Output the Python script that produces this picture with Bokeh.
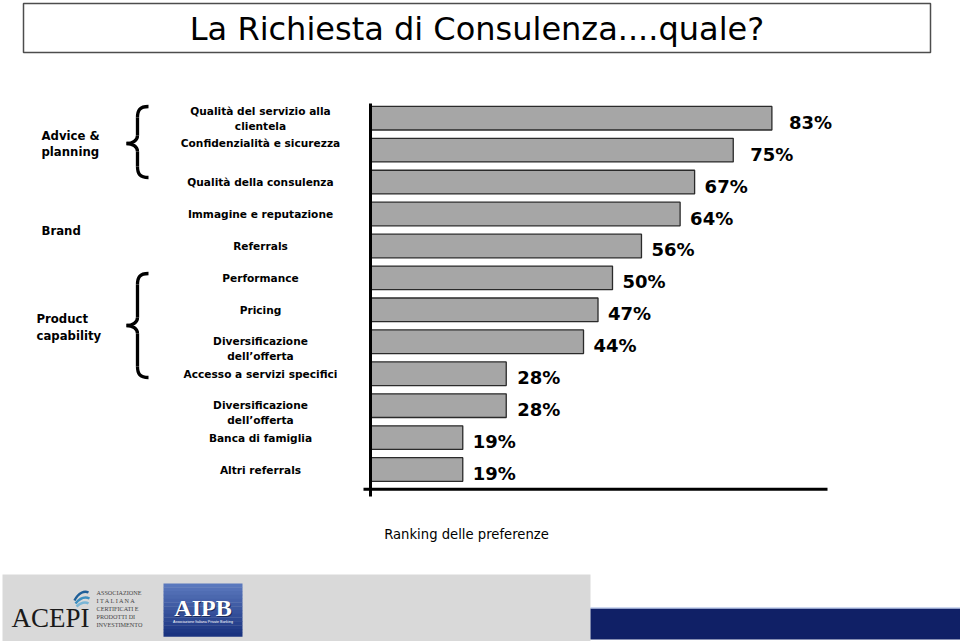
from bokeh.plotting import figure
from bokeh.models import ColumnDataSource, Range1d
from bokeh.core.properties import value
from bokeh.embed import file_html
from bokeh.resources import INLINE

# ---------------- data ----------------
categories = [
    "Qualità del servizio alla\nclientela",
    "Confidenzialità e sicurezza",
    "Qualità della consulenza",
    "Immagine e reputazione",
    "Referrals",
    "Performance",
    "Pricing",
    "Diversificazione\ndell’offerta",
    "Accesso a servizi specifici",
    "Diversificazione\ndell’offerta",
    "Banca di famiglia",
    "Altri referrals",
]
percent = [83, 75, 67, 64, 56, 50, 47, 44, 28, 28, 19, 19]
groups = ["Advice &\nplanning", "Brand", "Product\ncapability"]
title_text = "La Richiesta di Consulenza....quale?"
axis_title = "Ranking delle preferenze"
acepi_lines = ["ASSOCIAZIONE", "I T A L I A N A", "CERTIFICATI E", "PRODOTTI DI", "INVESTIMENTO"]

# ---------------- layout (pixels) ----------------
label_dy = [0, -7, 0, 0, 0, 0, 0, 7, 0, 7, 0, 0]
value_gap = [17, 17, 10, 10, 10, 10, 10, 10, 11, 11, 10, 10]

K = 4.83      # px per percent
X0 = 370.5    # px of 0 %
Y0 = 117.7    # px of first row
S = 31.94     # px per row


def X(px):
    return (px - X0) / K


def Y(py):
    return (py - Y0) / S


p = figure(width=960, height=641,
           x_range=Range1d(X(0), X(960)), y_range=Range1d(Y(641), Y(0)),
           output_backend="svg", toolbar_location=None,
           x_axis_location=None, y_axis_location=None,
           min_border=0, min_border_left=0, min_border_right=0,
           min_border_top=0, min_border_bottom=0,
           outline_line_color=None, background_fill_color="white",
           border_fill_color="white")
p.xgrid.visible = False
p.ygrid.visible = False

# ---------------- title box ----------------
p.quad(left=[X(23)], right=[X(930)], top=[Y(3)], bottom=[Y(52)],
       fill_color="white", line_color="#4d4d4d", line_width=1.5)
p.text(x=[X(476.5)], y=[Y(28.3)], text=[title_text], text_align="center",
       text_baseline="middle", text_font=value("DejaVu Sans"),
       text_font_size="32px", text_color="black")

# ---------------- bars ----------------
rank = list(range(len(percent)))
src = ColumnDataSource(dict(
    rank=rank, pct=percent, cat=categories,
    lab=[f"{v}%" for v in percent],
    gap=value_gap, dy=label_dy,
))
p.hbar(y="rank", left=0, right="pct", height=0.74, source=src,
       fill_color="#a6a6a6", line_color="#2a2a2a", line_width=1.3)

p.text(x="pct", y="rank", text="lab", x_offset="gap", y_offset=4, source=src,
       text_align="left", text_baseline="middle",
       text_font=value("DejaVu Sans"), text_font_style="bold",
       text_font_size="18px", text_color="black")

p.text(x=X(260), y="rank", text="cat", y_offset="dy", source=src,
       text_align="center", text_baseline="middle",
       text_font=value("DejaVu Sans"), text_font_style="bold",
       text_font_size="10.6px", text_line_height=1.27, text_color="black")

# axes lines
p.segment(x0=[X(370)], x1=[X(370)], y0=[Y(103)], y1=[Y(496)],
          line_color="black", line_width=3)
p.segment(x0=[X(363)], x1=[X(827)], y0=[Y(488.7)], y1=[Y(488.7)],
          line_color="black", line_width=3)

# ---------------- group labels & braces ----------------
p.text(x=[X(41), X(41), X(36)], y=[Y(143.3), Y(230), Y(327)], text=groups,
       text_align="left", text_baseline="middle",
       text_font=value("DejaVu Sans"), text_font_style="bold",
       text_font_size="11.7px", text_line_height=1.15, text_color="black")


def brace(ytop, ybot, ytip, xr=148, xm=137, xl=126):
    segs = [
        ((xr, ytop), (xm + 2, ytop), (xm, ytop + 4), (xm, ytop + 11)),
        ((xm, ytop + 11), (xm, ytop + 11), (xm, ytip - 8), (xm, ytip - 8)),
        ((xm, ytip - 8), (xm, ytip - 3), (xm - 5, ytip), (xl, ytip)),
        ((xl, ytip), (xm - 5, ytip), (xm, ytip + 3), (xm, ytip + 8)),
        ((xm, ytip + 8), (xm, ytip + 8), (xm, ybot - 11), (xm, ybot - 11)),
        ((xm, ybot - 11), (xm, ybot - 4), (xm + 2, ybot), (xr, ybot)),
    ]
    p.bezier(x0=[X(s[0][0]) for s in segs], y0=[Y(s[0][1]) for s in segs],
             cx0=[X(s[1][0]) for s in segs], cy0=[Y(s[1][1]) for s in segs],
             cx1=[X(s[2][0]) for s in segs], cy1=[Y(s[2][1]) for s in segs],
             x1=[X(s[3][0]) for s in segs], y1=[Y(s[3][1]) for s in segs],
             line_color="black", line_width=3.3)


brace(106, 177, 143)
brace(273, 377, 325)

# ---------------- axis title ----------------
p.text(x=[X(466)], y=[Y(534)], text=[axis_title], text_align="center",
       text_baseline="middle", text_font=value("DejaVu Sans"),
       text_font_size="13.2px", text_color="black")

# ---------------- footer logos ----------------
p.quad(left=[X(2)], right=[X(590)], top=[Y(574)], bottom=[Y(641)],
       fill_color="#d9d9d9", line_color=None)
p.quad(left=[X(590)], right=[X(960)], top=[Y(608)], bottom=[Y(639)],
       fill_color="#102066", line_color=None)
p.segment(x0=[X(590)], x1=[X(960)], y0=[Y(607.5)], y1=[Y(607.5)],
          line_color="#9fb3e0", line_width=1)

# ACEPI
p.text(x=[X(11)], y=[Y(617)], text=["ACEPI"], text_align="left",
       text_baseline="middle", text_font=value("Liberation Serif"),
       text_font_size="27px", text_color="#1a1a1a")
sw = [((74, 600), (78, 592), (84, 590), (88, 592), "#1f5f98"),
      ((75, 603), (80, 597), (85, 596), (89, 598), "#3d8fc0"),
      ((76, 606), (80, 602), (85, 601), (88, 603), "#7ab6d6")]
p.bezier(x0=[X(s[0][0]) for s in sw], y0=[Y(s[0][1]) for s in sw],
         cx0=[X(s[1][0]) for s in sw], cy0=[Y(s[1][1]) for s in sw],
         cx1=[X(s[2][0]) for s in sw], cy1=[Y(s[2][1]) for s in sw],
         x1=[X(s[3][0]) for s in sw], y1=[Y(s[3][1]) for s in sw],
         line_color=[s[4] for s in sw], line_width=2.5)
p.text(x=[X(96)] * 5, y=[Y(v) for v in (592, 599.5, 607.7, 616, 624.3)],
       text=acepi_lines, text_align="left", text_baseline="middle",
       text_font=value("Liberation Serif"), text_font_size="6.2px",
       text_color="#444444")

# AIPB gradient box
n = 14
top_c = (0x5a, 0x78, 0xbd)
bot_c = (0x1a, 0x33, 0x80)
h = (636 - 583) / n
for i in range(n):
    t = i / (n - 1)
    c = tuple(int(top_c[k] + (bot_c[k] - top_c[k]) * t) for k in range(3))
    p.quad(left=[X(163)], right=[X(242)], top=[Y(583 + i * h)],
           bottom=[Y(583 + (i + 1) * h + 0.3)],
           fill_color="#%02x%02x%02x" % c, line_color=None)
p.text(x=[X(203.5)], y=[Y(608)], text=["AIPB"], text_align="center",
       text_baseline="middle", text_font=value("Liberation Serif"),
       text_font_style="bold", text_font_size="24px", text_color="#1a2a5a")
p.text(x=[X(202.5)], y=[Y(607)], text=["AIPB"], text_align="center",
       text_baseline="middle", text_font=value("Liberation Serif"),
       text_font_style="bold", text_font_size="24px", text_color="white")
p.text(x=[X(202.5)], y=[Y(621)], text=["Associazione Italiana Private Banking"],
       text_align="center", text_baseline="middle",
       text_font=value("Liberation Sans"), text_font_size="3.6px",
       text_color="white")

open("out.html", "w").write(file_html(p, INLINE))
